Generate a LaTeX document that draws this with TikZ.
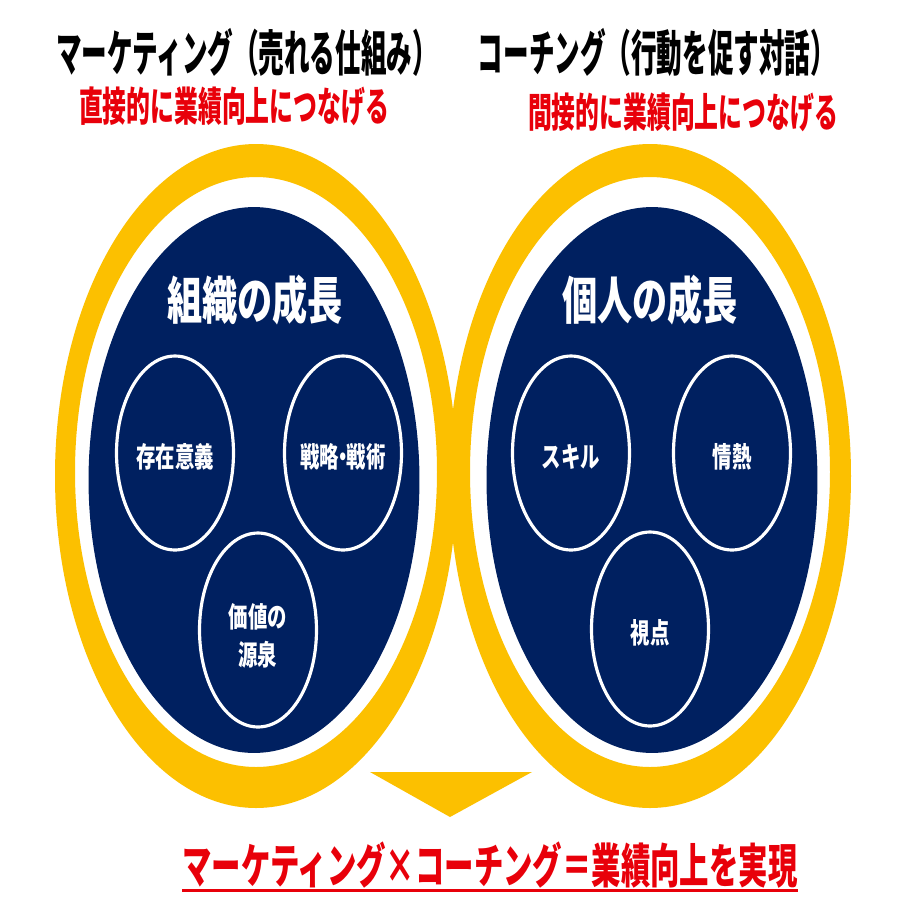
\documentclass[tikz,border=0pt]{standalone}
\usepackage{fontspec}
\newfontfamily\jp{Noto Sans CJK JP Black}
\usetikzlibrary{shapes.geometric,calc}
\definecolor{gold}{RGB}{252,192,0}
\definecolor{navy}{RGB}{0,32,96}
\definecolor{alert}{RGB}{232,0,10}

\begin{document}
\begin{tikzpicture}[
      x=0.02cm, y=-0.02cm,
      ring/.style={fill=gold, even odd rule},
      pond/.style={ellipse, fill=navy, minimum width=6.62cm,
                   minimum height=10.92cm, inner sep=0pt},
      bubble/.style={ellipse, draw=white, line width=1.8pt,
                     minimum width=2.34cm, minimum height=3.88cm, inner sep=0pt},
      head/.style={font=\jp\fontsize{28}{28}\selectfont, xscale=0.52, inner sep=0pt},
      sub/.style={font=\jp\fontsize{23}{23}\selectfont, text=alert, xscale=0.59, inner sep=0pt},
      title/.style={font=\jp\fontsize{29}{29}\selectfont, text=white, xscale=0.69, inner sep=0pt},
      lab/.style={font=\jp\fontsize{16}{22}\selectfont, text=white, xscale=0.69,
                  align=center, inner sep=0pt}
    ]
    \fill[white] (0,0) rectangle (921,921);
    \useasboundingbox (0,0) rectangle (921,921);

    % headings
    \node[head] (mkt) at (247,52) {マーケティング（売れる仕組み）};
    \node[head] (cch) at (657,52) {コーチング（行動を促す対話）};
    \node[sub] (dir) at (234,106) {直接的に業績向上につなげる};
    \node[sub] (ind) at (683,112) {間接的に業績向上につなげる};

    % rings
    \fill[ring] (256,476) ellipse [x radius=201, y radius=332]
                (256,472) ellipse [x radius=181, y radius=295];
    \fill[ring] (650,476) ellipse [x radius=201, y radius=332]
                (650,472) ellipse [x radius=180, y radius=295];
    \fill[gold] (370,772) -- (532,772) -- (450,817) -- cycle;

    % organisation / person
    \node[pond] (org) at (254,480) {};
    \node[pond] (per) at (652,480) {};
    \node[title] (orgT) at (255,300) {組織の成長};
    \node[title] (perT) at (650,300) {個人の成長};

    \node[bubble] (why)  at (175,453) {};
    \node[bubble] (plan) at (343,453) {};
    \node[bubble] (val)  at (258,630) {};
    \node[bubble] (skl)  at (571,453) {};
    \node[bubble] (pas)  at (732,453) {};
    \node[bubble] (view) at (650,629) {};
    \node[lab] at ($(why)+(0,4)$)  {存在意義};
    \node[lab] at ($(plan)+(0,4)$) {戦略\kern-.3em・\kern-.3em戦術};
    \node[lab] at ($(val)+(0,6)$)  {価値の\\源泉};
    \node[lab] at ($(skl)+(0,4)$)  {スキル};
    \node[lab] at ($(pas)+(0,4)$)  {情熱};
    \node[lab] at ($(view)+(0,4)$) {視点};

    % conclusion
    \node[font=\jp\fontsize{27}{27}\selectfont, text=alert, xscale=0.62, inner sep=0pt]
      (res) at (490,865) {マーケティング×コーチング＝業績向上を実現};
    \draw[alert, line width=1.7pt] ([yshift=-1pt]res.south west) -- ([yshift=-1pt]res.south east);
  \end{tikzpicture}
\end{document}
